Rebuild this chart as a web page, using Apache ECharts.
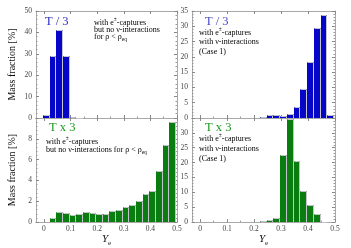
<!DOCTYPE html>
<html><head><meta charset="utf-8">
<script src="https://cdn.jsdelivr.net/npm/echarts@6/dist/echarts.min.js"></script>
<style>html,body{margin:0;padding:0;background:#fff}#c{width:351px;height:248px}</style>
</head><body><div id="c"></div>
<script>
// ---- data ----
const binWidth = 0.025;
const tlBins = [0, 0.025, 0.05, 0.075, 0.1, 0.125];
const tlValues = [1.4, 28.9, 41.1, 28.9, 0.5, 0.1];
const trBins = [0.225, 0.25, 0.275, 0.3, 0.325, 0.35, 0.375, 0.4, 0.425, 0.45, 0.475];
const trValues = [0.4, 1.0, 1.0, 0.7, 1.3, 3.5, 9.5, 18.2, 29.3, 33.6, 1.0];
const blBins = [0.025, 0.05, 0.075, 0.1, 0.125, 0.15, 0.175, 0.2, 0.225, 0.25, 0.275, 0.3, 0.325, 0.35, 0.375, 0.4, 0.425, 0.45, 0.475];
const blValues = [0.44, 0.94, 0.85, 0.66, 0.82, 0.94, 0.85, 0.82, 0.82, 1.03, 1.13, 1.41, 1.6, 2.07, 2.7, 2.98, 4.9, 7.43, 9.62];
const brBins = [0.225, 0.25, 0.275, 0.3, 0.325, 0.35, 0.375, 0.4, 0.425, 0.45];
const brValues = [0.3, 0.85, 1.4, 22.5, 34.5, 20.7, 10.3, 5.6, 2.7, 0.15];
const xTickValues = [0, 0.1, 0.2, 0.3, 0.4, 0.5];
const xMinorTickValues = [0.05, 0.15, 0.25, 0.35, 0.45];
const yRanges = { tl: [0, 50, 10], tr: [0, 35, 5], bl: [0, 10, 2], br: [0, 35, 5] };
const xRange = [-0.03, 0.5];

// ---- style ----
const SERIF = '"Liberation Serif", "DejaVu Serif", serif';
const BLUE = '#0606c8';
const GREEN = '#0a7d10';
const FRAME = '#a8a8a8';
const EDGE = '#c4c4cc';

const grids = [
  { left: 36, right: 174, top: 11, height: 107 },   // tl
  { left: 192, right: 16, top: 11, height: 107 },   // tr
  { left: 36, right: 174, top: 118, height: 106 },  // bl
  { left: 192, right: 16, top: 118, height: 106 }   // br
];
const keys = ['tl', 'tr', 'bl', 'br'];

const xAxes = [], yAxes = [];
keys.forEach((k, i) => {
  const bottomRow = i >= 2;
  const base = {
    gridIndex: i, type: 'value', min: xRange[0], max: xRange[1],
    splitLine: { show: false },
    axisLine: { show: true, onZero: false, lineStyle: { color: FRAME, width: 1 } }
  };
  xAxes.push(Object.assign({}, base, {
    position: 'bottom',
    axisTick: { show: true, inside: true, length: 3, customValues: xTickValues, lineStyle: { color: '#888' } },
    axisLabel: { show: bottomRow, customValues: xTickValues, fontFamily: SERIF, fontSize: 7.5, color: '#444', margin: 3,
      formatter: v => String(Math.round(v * 10) / 10) },
    name: bottomRow ? '{i|Y}{s|e}' : '',
    nameLocation: 'middle', nameGap: 9,
    nameTextStyle: { rich: {
      i: { fontFamily: SERIF, fontStyle: 'italic', fontSize: 11, color: '#111', verticalAlign: 'top' },
      s: { fontFamily: SERIF, fontSize: 7, color: '#111', verticalAlign: 'bottom', padding: [6, 0, 0, 0] }
    } }
  }));
  xAxes.push(Object.assign({}, base, {
    position: 'bottom',
    axisTick: { show: true, inside: true, length: 1.5, customValues: xMinorTickValues, lineStyle: { color: '#999' } },
    axisLabel: { show: false }
  }));
  xAxes.push(Object.assign({}, base, {
    position: 'top',
    axisTick: { show: true, inside: true, length: 3, customValues: xTickValues, lineStyle: { color: '#888' } },
    axisLabel: { show: false }
  }));
  const r = yRanges[k];
  const ybase = {
    gridIndex: i, type: 'value', min: r[0], max: r[1], interval: r[2],
    splitLine: { show: false },
    axisLine: { show: true, onZero: false, lineStyle: { color: FRAME, width: 1 } },
    axisTick: { show: true, inside: true, length: 3, lineStyle: { color: '#888' } },
    minorTick: { show: true, splitNumber: 5, length: 1.5, lineStyle: { color: '#999' } }
  };
  yAxes.push(Object.assign({}, ybase, {
    position: 'left',
    axisLabel: { show: true, fontFamily: SERIF, fontSize: 7.5, color: '#444', margin: 4, showMaxLabel: !bottomRow },
    name: (i === 0 || i === 2) ? 'Mass fraction [%]' : '', nameLocation: 'middle', nameGap: 19, nameRotate: 90,
    nameTextStyle: { fontFamily: SERIF, fontSize: 10, color: '#111' }
  }));
  yAxes.push(Object.assign({}, ybase, { position: 'right', axisLabel: { show: false } }));
});

function barSeries(idx, bins, values, color) {
  return {
    type: 'custom', xAxisIndex: idx * 3, yAxisIndex: idx * 2, clip: false,
    data: bins.map((b, j) => [b, values[j]]),
    renderItem: function (params, api) {
      const lo = api.value(0), v = api.value(1);
      const p0 = api.coord([lo, 0]);
      const p1 = api.coord([lo + binWidth, v]);
      const xl = Math.round(p0[0]) - 1, xr = Math.round(p1[0]) - 1;
      const yb = Math.round(p0[1]), yt = Math.round(p1[1]);
      return {
        type: 'group',
        children: [
          { type: 'rect', shape: { x: xl, y: yt, width: xr - xl, height: yb - yt }, style: { fill: color } },
          { type: 'polyline', shape: { points: [[xl + 0.5, yt + 0.5], [xr - 0.5, yt + 0.5], [xr - 0.5, yb]] },
            style: { stroke: EDGE, lineWidth: 1, fill: null } }
        ]
      };
    }
  };
}

function richSet(lh) {
  return {
    n: { fontFamily: SERIF, fontSize: 8, color: '#111', lineHeight: lh },
    sup: { fontFamily: SERIF, fontSize: 5.5, color: '#111', lineHeight: lh, padding: [0, 0, 5, 0] },
    sub: { fontFamily: SERIF, fontSize: 5.5, color: '#111', lineHeight: lh, padding: [5, 0, 0, 0] }
  };
}
const graphics = [
  { type: 'text', left: 45, top: 15, style: { text: 'T / 3', fontFamily: SERIF, fontSize: 12.5, fill: '#2a2ac8' } },
  { type: 'text', left: 205, top: 15, style: { text: 'T / 3', fontFamily: SERIF, fontSize: 12.5, fill: '#4646cc' } },
  { type: 'text', left: 49, top: 121, style: { text: 'T x 3', fontFamily: SERIF, fontSize: 12.5, fill: '#1a9a1a' } },
  { type: 'text', left: 205, top: 121, style: { text: 'T x 3', fontFamily: SERIF, fontSize: 12.5, fill: '#1a9a1a' } },
  { type: 'text', left: 94, top: 17, style: { text: '{n|with e}{sup|±}{n|-captures}\n{n|but no ν-interactions}\n{n|for ρ < ρ}{sub|eq}', rich: richSet(7.2) } },
  { type: 'text', left: 199, top: 27, style: { text: '{n|with e}{sup|±}{n|-captures}\n{n|with ν-interactions}\n{n|(Case 1)}', rich: richSet(9.5) } },
  { type: 'text', left: 46, top: 136, style: { text: '{n|with e}{sup|±}{n|-captures}\n{n|but no ν-interactions for ρ < ρ}{sub|eq}', rich: richSet(8.5) } },
  { type: 'text', left: 199, top: 133, style: { text: '{n|with e}{sup|±}{n|-captures}\n{n|with ν-interactions}\n{n|(Case 1)}', rich: richSet(10) } }
];

const chart = echarts.init(document.getElementById('c'), null, { renderer: 'canvas' });
chart.setOption({
  animation: false,
  backgroundColor: '#fff',
  grid: grids,
  xAxis: xAxes,
  yAxis: yAxes,
  series: [
    barSeries(0, tlBins, tlValues, BLUE),
    barSeries(1, trBins, trValues, BLUE),
    barSeries(2, blBins, blValues, GREEN),
    barSeries(3, brBins, brValues, GREEN)
  ],
  graphic: graphics
});
</script></body></html>
